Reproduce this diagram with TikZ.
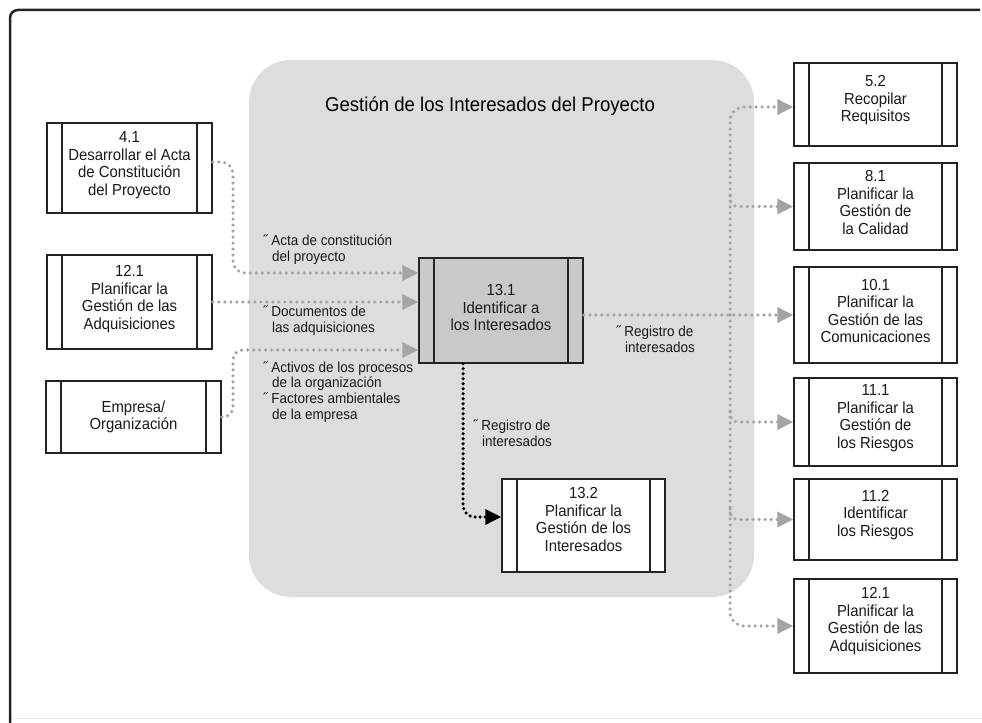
\documentclass[tikz,border=0pt]{standalone}
\usepackage{fontspec}
\setmainfont[FakeStretch=0.93]{Liberation Sans}
\usetikzlibrary{arrows.meta}
\definecolor{regiongray}{RGB}{219,221,223}
\definecolor{boxgray}{RGB}{200,201,203}
\definecolor{dotgray}{RGB}{163,164,166}
\definecolor{framecol}{RGB}{35,35,35}
\newcommand\procfont{\fontsize{16bp}{17.5bp}\selectfont}
\newcommand\lblfont{\fontsize{14.5bp}{15.7bp}\selectfont}
\newcommand\ttlfont{\fontsize{20bp}{22bp}\selectfont}
\newcommand\ind{\hspace*{9bp}}
\tikzset{
  proc/.style={draw=framecol, line width=1.5bp, fill=white, inner sep=0pt,
    path picture={
      \draw[framecol, line width=1.5bp]
        ([xshift=15bp]path picture bounding box.north west) --
        ([xshift=15bp]path picture bounding box.south west);
      \draw[framecol, line width=1.5bp]
        ([xshift=-15bp]path picture bounding box.north east) --
        ([xshift=-15bp]path picture bounding box.south east);
    }},
  proctext/.style={align=center, font=\procfont, inner sep=0pt, text=black!90},
  lbl/.style={align=left, font=\lblfont, inner sep=0pt, anchor=west, text=black!90},
  region/.style={fill=regiongray, rounded corners=42bp, inner sep=0pt},
  gdot/.style={draw=dotgray, line width=3.5bp, line cap=round, dash pattern=on 0bp off 6bp},
  gtip/.style={-{Triangle[length=16bp,width=15bp,fill=dotgray]}},
  kdot/.style={draw=black, line width=3.5bp, line cap=round, dash pattern=on 0bp off 5bp},
  ktip/.style={-{Triangle[length=16bp,width=15bp,fill=black]}},
}
\begin{document}
\begin{tikzpicture}[x=1bp,y=-1bp]
\useasboundingbox (0,0) rectangle (982,723);
% frame
\draw[black!8, line width=1bp] (10,718) -- (982,718);
\draw[framecol, line width=2.5bp, rounded corners=8bp] (10,723) -- (10,10) -- (980,10);
% region
\node[region, minimum width=505bp, minimum height=537bp] (reg) at (501.5,328.5) {};
\node[font=\ttlfont, inner sep=0pt] (title) at (490,106) {Gestión de los Interesados del Proyecto};
% left boxes
\node[proc, minimum width=165bp, minimum height=90bp] (b41) at (129.5,168) {};
\node[proctext] (b41t) at ([yshift=3bp]b41.center) {4.1\\Desarrollar el Acta\\de Constitución\\del Proyecto};
\node[proc, minimum width=165bp, minimum height=94bp] (b121L) at (129.5,302) {};
\node[proctext] (b121Lt) at ([yshift=3bp]b121L.center) {12.1\\Planificar la\\Gestión de las\\Adquisiciones};
\node[proc, minimum width=175bp, minimum height=72bp] (emp) at (133.5,417) {};
\node[proctext] (empt) at ([yshift=0bp]emp.center) {Empresa/\\Organización};
% centre boxes
\node[proc, fill=boxgray, minimum width=164bp, minimum height=105bp] (b131) at (501,310.5) {};
\node[proctext] (b131t) at ([yshift=3bp]b131.center) {13.1\\Identificar a\\los Interesados};
\node[proc, minimum width=163bp, minimum height=93bp] (b132) at (583.5,525.5) {};
\node[proctext] (b132t) at ([yshift=6bp]b132.center) {13.2\\Planificar la\\Gestión de los\\Interesados};
% right boxes
\node[proc, minimum width=163bp, minimum height=83bp] (b52) at (875.5,104.5) {};
\node[proctext] (b52t) at ([yshift=4bp]b52.center) {5.2\\Recopilar\\Requisitos};
\node[proc, minimum width=163bp, minimum height=87bp] (b81) at (875.5,206.5) {};
\node[proctext] (b81t) at ([yshift=4bp]b81.center) {8.1\\Planificar la\\Gestión de\\la Calidad};
\node[proc, minimum width=163bp, minimum height=96bp] (b101) at (875.5,315) {};
\node[proctext] (b101t) at ([yshift=4bp]b101.center) {10.1\\Planificar la\\Gestión de las\\Comunicaciones};
\node[proc, minimum width=163bp, minimum height=88bp] (b111) at (875.5,422) {};
\node[proctext] (b111t) at ([yshift=4bp]b111.center) {11.1\\Planificar la\\Gestión de\\los Riesgos};
\node[proc, minimum width=163bp, minimum height=81bp] (b112) at (875.5,519.5) {};
\node[proctext] (b112t) at ([yshift=4.5bp]b112.center) {11.2\\Identificar\\los Riesgos};
\node[proc, minimum width=163bp, minimum height=94bp] (b121R) at (875.5,626) {};
\node[proctext] (b121Rt) at ([yshift=5bp]b121R.center) {12.1\\Planificar la\\Gestión de las\\Adquisiciones};
% labels
\node[lbl] (l1) at (263,249.5) {˝ Acta de constitución\\\ind del proyecto};
\node[lbl] (l2) at (263,320.5) {˝ Documentos de\\\ind las adquisiciones};
\node[lbl] (l3) at (263,392) {˝ Activos de los procesos\\\ind de la organización\\˝ Factores ambientales\\\ind de la empresa};
\node[lbl] (l4) at (616,339.5) {˝ Registro de\\\ind interesados};
\node[lbl] (l5) at (473,433) {˝ Registro de\\\ind interesados};
% input connectors
\draw[gdot, gtip, rounded corners=12bp] ([yshift=6bp]b41.east) -- (233,162) -- (233,273) -- (b131.west |- 0,273);
\draw[gdot, gtip] (b121L.east) -- (b131.west |- b121L.east);
\draw[gdot, gtip, rounded corners=10bp] (emp.east) -- (233,417) -- (233,350) -- (b131.west |- 0,350);
% outputs
\draw[gdot, gtip] (b131.east |- b101.west) -- (b101.west);
\draw[gdot, gtip, rounded corners=14bp] (730,315) -- (730,107) -- ([yshift=-2.5bp]b52.west);
\draw[gdot, gtip, rounded corners=14bp] (730,315) -- (730,626) -- (b121R.west);
\draw[gdot, gtip, rounded corners=8bp] (730,196) -- (730,206.5) -- (b81.west);
\draw[gdot, gtip, rounded corners=8bp] (730,412) -- (730,422) -- (b111.west);
\draw[gdot, gtip, rounded corners=8bp] (730,509) -- (730,519.5) -- (b112.west);
\draw[kdot, ktip, rounded corners=12bp] (b131.south -| 463,0) -- (463,517) -- ([yshift=8.5bp]b132.west);
\end{tikzpicture}
\end{document}
